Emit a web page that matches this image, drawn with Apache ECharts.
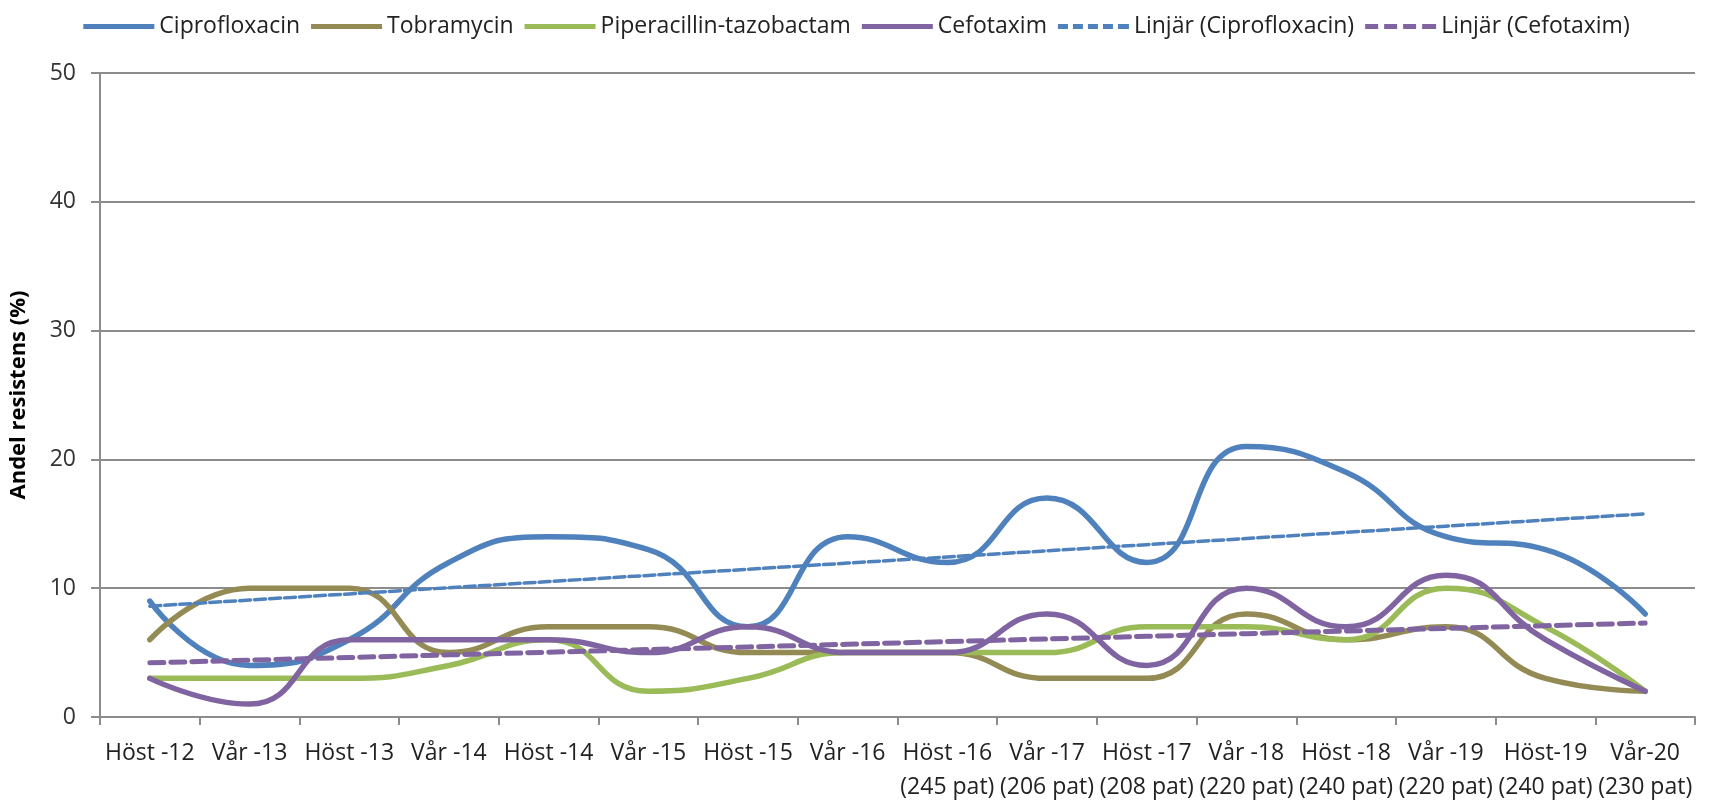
<!DOCTYPE html>
<html>
<head>
<meta charset="utf-8">
<script src="https://cdn.jsdelivr.net/npm/echarts@6/dist/echarts.min.js"></script>
<style>
  html, body { margin: 0; padding: 0; background: #fff; }
  #chart { width: 1713px; height: 804px; }
</style>
</head>
<body>
<div id="chart"></div>
<script>
// kategorier (termin + antal patienter)
const categories = [
  'Höst -12', 'Vår -13', 'Höst -13', 'Vår -14', 'Höst -14', 'Vår -15', 'Höst -15', 'Vår -16',
  'Höst -16\n(245 pat)', 'Vår -17\n(206 pat)', 'Höst -17\n(208 pat)', 'Vår -18\n(220 pat)',
  'Höst -18\n(240 pat)', 'Vår -19\n(220 pat)', 'Höst-19\n(240 pat)', 'Vår-20\n(230 pat)'
]

// andel resistens (%)
const ciprofloxacin = [9, 4, 6, 12, 14, 13, 7, 14, 12, 17, 12, 21, 19, 14, 13, 8]
const tobramycin = [6, 10, 10, 5, 7, 7, 5, 5, 5, 3, 3, 8, 6, 7, 3, 2]
const piperacillin = [3, 3, 3, 4, 6, 2, 3, 5, 5, 5, 7, 7, 6, 10, 7, 2]
const cefotaxim = [3, 1, 6, 6, 6, 5, 7, 5, 5, 8, 4, 10, 7, 11, 6, 2]

const yTicks = [0, 10, 20, 30, 40, 50]

// linjär trendlinje (minsta kvadrat) som i Excel
const linear = (vals) => {
  const n = vals.length
  const xm = (n + 1) / 2
  const ym = vals.reduce((a, b) => a + b, 0) / n
  let sxy = 0, sxx = 0
  vals.forEach((v, i) => { sxy += (i + 1 - xm) * (v - ym); sxx += (i + 1 - xm) ** 2 })
  const k = sxy / sxx
  return vals.map((v, i) => +(ym + k * (i + 1 - xm)).toFixed(3))
}

const FONT = '"Open Sans", "DejaVu Sans", sans-serif'
const GRAY = '#8c8c8c'

// legend-ikoner: heldragen / streckad linje
const ICON_SOLID = 'path://M0,0H71V5H0Z'
const ICON_DASH_BLUE = 'path://M0,0.8H10V4.2H0Z M15,0.8H25V4.2H15Z M30,0.8H40V4.2H30Z M45,0.8H55V4.2H45Z M60,0.8H71V4.2H60Z'
const ICON_DASH_PURPLE = 'path://M0,0H13V5H0Z M19,0H32V5H19Z M38,0H51V5H38Z M57,0H71V5H57Z'

const solid = (name, data, color) => ({
  name, type: 'line', data,
  smooth: 0.5, symbol: 'none',
  lineStyle: { color, width: 5.5, cap: 'round', join: 'round' },
  itemStyle: { color }
})

const myChart = echarts.init(document.getElementById('chart'))

const option = {
  animation: false,
  backgroundColor: '#fff',
  textStyle: { fontFamily: FONT },
  legend: {
    top: 10,
    left: 'center',
    itemWidth: 71,
    itemHeight: 5,
    itemGap: 11,
    symbolKeepAspect: false,
    itemStyle: { borderWidth: 0 },
    textStyle: { fontFamily: FONT, fontSize: 23, color: '#222' },
    data: [
      { name: 'Ciprofloxacin', icon: ICON_SOLID },
      { name: 'Tobramycin', icon: ICON_SOLID },
      { name: 'Piperacillin-tazobactam', icon: ICON_SOLID },
      { name: 'Cefotaxim', icon: ICON_SOLID },
      { name: 'Linjär (Ciprofloxacin)', icon: ICON_DASH_BLUE },
      { name: 'Linjär (Cefotaxim)', icon: ICON_DASH_PURPLE }
    ]
  },
  grid: { left: 96, right: 18, top: 73, bottom: 82, containLabel: false },
  xAxis: {
    type: 'category',
    data: categories,
    boundaryGap: true,
    axisLine: { lineStyle: { color: GRAY, width: 2 } },
    axisTick: { show: true, interval: 0, length: 8, lineStyle: { color: GRAY, width: 2 } },
    axisLabel: {
      interval: 0, margin: 19, fontFamily: FONT, fontSize: 23, color: '#222', lineHeight: 34
    },
    splitLine: { show: false }
  },
  yAxis: {
    type: 'value',
    min: yTicks[0],
    max: yTicks[yTicks.length - 1],
    interval: 10,
    name: 'Andel resistens (%)',
    nameLocation: 'middle',
    nameRotate: 90,
    nameGap: 70,
    nameTextStyle: { fontFamily: FONT, fontSize: 22, fontWeight: 'bold', color: '#000' },
    axisLine: { show: true, lineStyle: { color: GRAY, width: 2 } },
    axisTick: { show: true, length: 9, lineStyle: { color: GRAY, width: 2 } },
    axisLabel: { margin: 24, fontFamily: FONT, fontSize: 23, color: '#333' },
    splitLine: { show: true, lineStyle: { color: GRAY, width: 2 } }
  },
  series: [
    solid('Ciprofloxacin', ciprofloxacin, '#4f81bd'),
    solid('Tobramycin', tobramycin, '#948a54'),
    solid('Piperacillin-tazobactam', piperacillin, '#9bbb59'),
    solid('Cefotaxim', cefotaxim, '#8064a2'),
    {
      name: 'Linjär (Ciprofloxacin)', type: 'line', data: linear(ciprofloxacin),
      symbol: 'none',
      lineStyle: { color: '#4f81bd', width: 3.5, type: [11, 4], cap: 'round' },
      itemStyle: { color: '#4f81bd' }
    },
    {
      name: 'Linjär (Cefotaxim)', type: 'line', data: linear(cefotaxim),
      symbol: 'none',
      lineStyle: { color: '#8064a2', width: 5, type: [14, 7], cap: 'round' },
      itemStyle: { color: '#8064a2' }
    }
  ]
}

myChart.setOption(option)
</script>
</body>
</html>
